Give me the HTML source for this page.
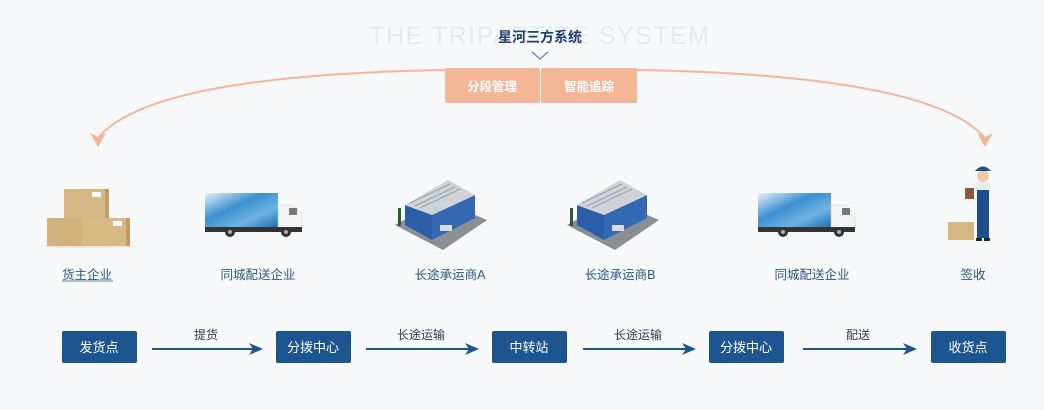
<!DOCTYPE html>
<html><head><meta charset="utf-8"><style>
html,body{margin:0;padding:0;background:#f7f8fa;}
svg{display:block;font-family:"Liberation Sans","Noto Sans CJK SC",sans-serif;}
</style></head><body>
<svg width="1044" height="410" viewBox="0 0 1044 410" xmlns="http://www.w3.org/2000/svg">
<defs>
<marker id="ah" markerWidth="14" markerHeight="14" refX="12" refY="7" orient="auto" markerUnits="userSpaceOnUse"><path d="M0,1 L14,7 L0,13 L4,7Z" fill="#1d5591"/></marker>
<linearGradient id="tb" x1="0" y1="0" x2="1" y2="1"><stop offset="0" stop-color="#e8f2fa"/><stop offset="0.4" stop-color="#3b8fcf"/><stop offset="0.7" stop-color="#6fb3e3"/><stop offset="1" stop-color="#1d6fb5"/></linearGradient>
</defs>
<rect width="1044" height="410" fill="#f7f8fa"/>
<text x="540" y="44" text-anchor="middle" font-size="25" letter-spacing="1.5" fill="#e3e9f1">THE TRIPARTITE SYSTEM</text>
<text x="540" y="42" text-anchor="middle" font-size="14" font-weight="bold" fill="#1f3f6e">星河三方系统</text>
<path d="M532,52 L540,59 L548,52" fill="none" stroke="#5d7ea8" stroke-width="1.2"/>
<path d="M98,138 Q150,75 445,70" fill="none" stroke="#f4b697" stroke-width="2"/>
<path d="M637,70 Q930,75 985,138" fill="none" stroke="#f4b697" stroke-width="2"/>
<path d="M90,133 L98,147 L106,133 L98,137Z" fill="#f4b697"/>
<path d="M977,133 L985,147 L993,133 L985,137Z" fill="#f4b697"/>
<rect x="445" y="68" width="95" height="35" rx="2" fill="#f4b697"/>
<rect x="541" y="68" width="96" height="35" rx="2" fill="#f4b697"/>
<text x="492" y="91" text-anchor="middle" font-size="12.5" font-weight="bold" fill="#fff">分段管理</text>
<text x="589" y="91" text-anchor="middle" font-size="12.5" font-weight="bold" fill="#fff">智能追踪</text>
<g>
<ellipse cx="88" cy="246" rx="45" ry="2" fill="#e3e5e8"/>
<rect x="64" y="189" width="45" height="30" fill="#d6b683"/><rect x="105" y="189" width="4" height="30" fill="#c19d64"/>
<rect x="47" y="218" width="46" height="28" fill="#d3b17c"/>
<rect x="82" y="218" width="48" height="28" fill="#d8b985"/><rect x="126" y="218" width="4" height="28" fill="#c19d64"/>
<rect x="92" y="192" width="9" height="5" fill="#fff"/><rect x="113" y="221" width="9" height="5" fill="#fff"/>
</g>
<g id="truck">
<rect x="205" y="193" width="73" height="34" fill="url(#tb)"/>
<path d="M278,205 L293,205 L302,214 L302,230 L278,230Z" fill="#f2f3f5" stroke="#ccc" stroke-width="0.5"/>
<rect x="289" y="208" width="8" height="7" fill="#777"/>
<rect x="205" y="227" width="97" height="5" fill="#333"/>
<circle cx="230" cy="232" r="5" fill="#333"/><circle cx="230" cy="232" r="2" fill="#aaa"/>
<circle cx="286" cy="232" r="5" fill="#333"/><circle cx="286" cy="232" r="2" fill="#aaa"/>
</g>
<use href="#truck" transform="translate(553,0)"/>
<g id="wh">
<path d="M395,225 L440,200 L487,220 L443,250Z" fill="#8a8f94"/>
<path d="M405,205 L405,225 L432,240 L432,215Z" fill="#2a5ea8"/>
<path d="M432,215 L432,240 L475,218 L475,195Z" fill="#3468b4"/>
<path d="M405,205 L432,215 L475,195 L448,180Z" fill="#cfd3d8"/>
<path d="M410,203 L450,184 M415,206 L455,187 M420,208 L460,189" stroke="#9aa0a6" stroke-width="1"/>
<rect x="398" y="208" width="3" height="18" fill="#2f5a2e"/>
<rect x="440" y="225" width="12" height="6" fill="#ddd"/>
</g>
<use href="#wh" transform="translate(172,0)"/>
<g>
<rect x="948" y="222" width="26" height="18" fill="#d6b683"/>
<circle cx="983" cy="176" r="6" fill="#f2c9a8"/>
<path d="M975,171 Q983,162 991,171Z" fill="#1d4f8f"/>
<rect x="976" y="182" width="14" height="18" rx="3" fill="#e8ecf0"/>
<rect x="977" y="190" width="12" height="48" fill="#1d4f8f"/>
<rect x="965" y="188" width="9" height="11" fill="#8a5a3a"/>
<rect x="976" y="238" width="6" height="3" fill="#222"/><rect x="984" y="238" width="6" height="3" fill="#222"/>
</g>
<g font-size="12.5" fill="#2b5785" text-anchor="middle">
<text x="87" y="279">货主企业</text><line x1="62" y1="281" x2="113" y2="281" stroke="#2b5785" stroke-width="0.8"/>
<text x="258" y="279">同城配送企业</text>
<text x="450" y="279">长途承运商A</text>
<text x="620" y="279">长途承运商B</text>
<text x="812" y="279">同城配送企业</text>
<text x="973" y="279">签收</text>
</g>
<g fill="#1d5591">
<rect x="62" y="331" width="75" height="32" rx="2"/>
<rect x="276" y="331" width="75" height="32" rx="2"/>
<rect x="492" y="331" width="75" height="32" rx="2"/>
<rect x="709" y="331" width="75" height="32" rx="2"/>
<rect x="931" y="331" width="75" height="32" rx="2"/>
</g>
<g font-size="13" fill="#fff" text-anchor="middle">
<text x="99" y="352">发货点</text><text x="313" y="352">分拨中心</text><text x="529" y="352">中转站</text><text x="746" y="352">分拨中心</text><text x="968" y="352">收货点</text>
</g>
<g stroke="#1d5591" stroke-width="2" marker-end="url(#ah)">
<line x1="152" y1="349" x2="261" y2="349"/>
<line x1="366" y1="349" x2="477" y2="349"/>
<line x1="583" y1="349" x2="694" y2="349"/>
<line x1="803" y1="349" x2="915" y2="349"/>
</g>
<g font-size="12" fill="#2e3a52" text-anchor="middle">
<text x="206" y="339">提货</text><text x="421" y="339">长途运输</text><text x="638" y="339">长途运输</text><text x="858" y="339">配送</text>
</g>
</svg>
</body></html>
